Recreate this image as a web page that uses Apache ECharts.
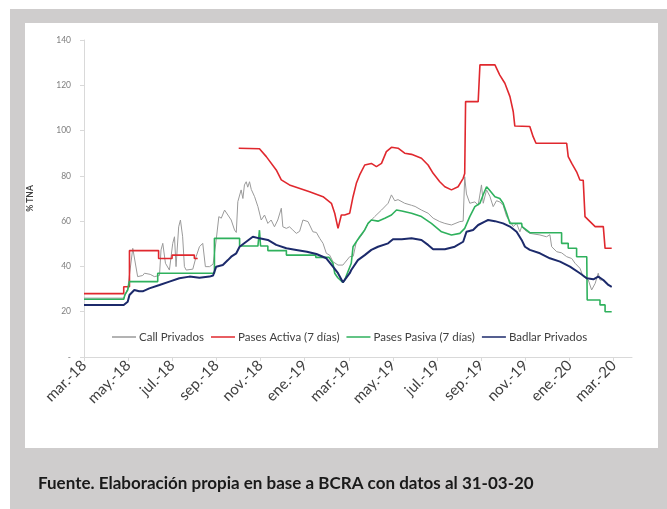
<!DOCTYPE html>
<html>
<head>
<meta charset="utf-8">
<script src="https://cdn.jsdelivr.net/npm/echarts@6/dist/echarts.min.js"></script>
<style>
  html, body { margin: 0; padding: 0; background: #ffffff; }
  #frame { position: absolute; left: 10px; top: 9px; width: 657px; height: 500px; background: #cfcdcd; }
  #panel { position: absolute; left: 25px; top: 23px; width: 633px; height: 425px; background: #ffffff; }
  #chart { position: absolute; left: 0; top: 0; width: 667px; height: 509px; }
</style>
</head>
<body>
<div id="frame"></div>
<div id="panel"></div>
<div id="chart"></div>
<script>
// x = months elapsed since 1 March 2018; y = % TNA
const tickLabels = ['mar.-18', 'may.-18', 'jul.-18', 'sep.-18', 'nov.-18', 'ene.-19', 'mar.-19',
  'may.-19', 'jul.-19', 'sep.-19', 'nov.-19', 'ene.-20', 'mar.-20'];
const tickPositions = [0, 2, 4, 6, 8, 10, 12, 14, 16, 18, 20, 22, 24];

const seriesNames = ['Call Privados', 'Pases Activa (7 días)', 'Pases Pasiva (7 días)', 'Badlar Privados'];

const callPrivados = [
  [0, 26], [1.80, 26], [1.98, 30], [2.21, 48], [2.28, 48.7], [2.43, 35.5], [2.66, 36], [2.74, 37],
  [3.0, 36.5], [3.19, 35.5], [3.42, 36], [3.49, 47.3], [3.57, 50.2], [3.69, 41.4], [3.87, 38.4],
  [4.02, 50.2], [4.10, 53.1], [4.17, 39.9], [4.29, 57.5], [4.37, 60.5], [4.47, 53.1], [4.55, 39.9],
  [4.63, 38.4], [4.93, 38.8], [5.08, 44.3], [5.23, 48.7], [5.38, 50.2], [5.50, 39.9], [5.69, 39.9],
  [5.85, 41], [5.99, 51.7], [6.11, 62], [6.22, 61.3], [6.37, 64.9], [6.52, 62.7], [6.67, 60.5],
  [6.82, 56.1], [6.90, 55], [6.97, 68.6], [7.12, 73.8], [7.20, 70], [7.27, 76], [7.35, 77.4],
  [7.42, 75], [7.50, 77.4], [7.58, 74], [7.73, 70.8], [7.88, 66.4], [8.03, 60.5], [8.18, 62.7],
  [8.33, 59], [8.48, 60.5], [8.63, 57.5], [8.78, 60.5], [8.94, 65.7], [9.01, 57.5], [9.17, 56.8],
  [9.31, 57.5], [9.46, 56.1], [9.62, 54.6], [9.77, 55.5], [9.92, 60.5], [10.15, 59.8], [10.37, 55.3],
  [10.53, 55], [10.68, 52.4], [10.83, 50.2], [10.98, 45.8], [11.13, 45], [11.28, 42.1], [11.51, 40.6],
  [11.73, 40.6], [12.04, 44.3], [12.20, 44.5], [12.34, 50.9], [12.60, 54], [12.87, 59], [13.17, 62],
  [13.48, 64.9], [13.78, 67.9], [13.93, 71.6], [14.08, 69], [14.23, 69.5], [14.53, 67.9], [14.84, 67],
  [15.0, 66.5], [15.29, 64.9], [15.59, 63.5], [15.82, 61.3], [16.12, 59.8], [16.35, 59], [16.65, 58.3],
  [17.03, 59.8], [17.18, 60], [17.25, 79.6], [17.33, 72], [17.48, 67.9], [17.71, 68.5], [17.86, 67],
  [18.01, 76], [18.09, 67.9], [18.24, 73.8], [18.39, 71], [18.54, 66.4], [18.69, 69], [18.84, 68.5],
  [18.99, 67], [19.15, 62], [19.30, 60], [19.45, 57.6], [19.60, 59], [19.75, 55.3], [19.83, 57.6],
  [19.98, 56], [20.20, 54.6], [20.66, 53.9], [20.96, 53.1], [21.11, 54], [21.19, 48.7], [21.42, 46.5],
  [21.64, 46], [21.87, 44.3], [22.10, 43.5], [22.25, 41.4], [22.47, 39.2], [22.62, 35.5], [22.85, 34],
  [23.00, 29.6], [23.16, 32.5], [23.30, 37], [23.38, 34], [23.53, 34], [23.76, 32], [23.91, 31]
];

const pasesActiva = [
  [0, 28], [1.80, 28], [1.80, 31], [2.06, 31], [2.06, 47], [3.38, 47], [3.38, 43.5], [3.99, 43.5],
  [3.99, 45], [5.00, 45], [5.00, 43.5], [5.15, 43.5], [6.0, null],
  [7.01, 92.2], [7.95, 92], [8.26, 88.5], [8.71, 82.6], [8.94, 78.2], [9.31, 76], [10.22, 73],
  [10.83, 70.8], [11.21, 67.9], [11.36, 63.5], [11.51, 56.8], [11.58, 56], [11.66, 62.7], [11.81, 62.7],
  [12.04, 63.5], [12.19, 70.8], [12.34, 76.7], [12.49, 80.4], [12.72, 84.8], [13.02, 85.5], [13.25, 84.1],
  [13.48, 85.5], [13.70, 90.7], [13.93, 92.6], [14.23, 92.2], [14.53, 90], [14.84, 89.5], [15.29, 87.8],
  [15.59, 84.8], [15.82, 81.1], [16.12, 77.4], [16.35, 75.2], [16.65, 73.8], [16.95, 75.2], [17.18, 78.9],
  [17.25, 81], [17.29, 112.8], [17.86, 112.8], [17.94, 129], [18.62, 129], [18.84, 124.5], [19.07, 120.9],
  [19.30, 115], [19.45, 108.3], [19.52, 102], [20.20, 101.8], [20.35, 97.3], [20.48, 94.4], [21.87, 94.4],
  [21.94, 88.5], [22.10, 85.5], [22.32, 81.8], [22.47, 78.2], [22.62, 78], [22.70, 62], [22.93, 59.8],
  [23.16, 57.6], [23.53, 57.6], [23.61, 48], [23.91, 48]
];

const pasesPasiva = [
  [0, 25.5], [1.80, 25.5], [1.85, 27.4], [1.98, 29.6], [2.06, 33.3], [3.34, 33.3], [3.34, 37], [5.91, 37],
  [5.91, 52.4], [7.05, 52.4], [7.05, 49], [7.88, 49], [7.95, 56], [8.0, 49], [8.33, 49], [8.33, 47],
  [9.17, 47], [9.17, 45], [10.5, 45], [10.5, 44], [11.1, 44], [11.28, 41.4], [11.36, 37], [11.5, 35],
  [11.73, 33], [11.81, 34], [12.11, 41.4], [12.19, 48.7], [12.49, 53.1], [12.72, 56.1], [12.87, 59],
  [13.02, 60.5], [13.32, 60], [13.63, 61.3], [13.93, 62.7], [14.16, 64.9], [14.40, 64.5], [14.84, 63.5],
  [15.29, 62], [15.74, 59], [16.20, 55.3], [16.65, 53.9], [17.03, 54.6], [17.25, 56.8], [17.48, 62],
  [17.71, 66.4], [17.94, 67.9], [18.10, 72], [18.24, 75.2], [18.35, 74], [18.62, 70.8], [18.84, 70],
  [18.99, 67.9], [19.15, 63.5], [19.30, 59], [19.83, 59], [19.85, 57.6], [20.20, 54.9], [21.64, 54.9],
  [21.64, 50.2], [21.94, 50.2], [21.94, 48], [22.32, 48], [22.32, 44.3], [22.78, 44.3], [22.80, 25.2],
  [23.38, 25.2], [23.38, 23], [23.61, 23], [23.61, 20], [23.91, 20]
];

const badlarPrivados = [
  [0, 23], [1.80, 23], [1.98, 24.4], [2.06, 27.4], [2.28, 29.6], [2.50, 29], [2.66, 29], [2.96, 30.3],
  [3.42, 31.8], [3.87, 33.3], [4.32, 34.8], [4.78, 35.5], [5.23, 35], [5.69, 35.5], [5.85, 36],
  [5.99, 39.9], [6.29, 40.6], [6.52, 42.8], [6.67, 44.3], [6.90, 45.8], [7.05, 48.7], [7.35, 50.9],
  [7.65, 53.1], [7.95, 52.4], [8.33, 51.7], [8.71, 49.5], [9.17, 48], [9.62, 47.3], [10.10, 46.5],
  [10.53, 45.5], [10.98, 43.6], [11.28, 39.9], [11.51, 37], [11.73, 33], [11.81, 33.5], [12.04, 37],
  [12.11, 38.4], [12.41, 42.8], [12.72, 45], [13.02, 47.3], [13.32, 48.7], [13.78, 50.2], [14.00, 52],
  [14.40, 52], [14.84, 52.4], [15.29, 51.7], [15.59, 49.5], [15.82, 47.6], [16.35, 47.6], [16.80, 48.7],
  [17.18, 50.9], [17.33, 55.3], [17.63, 56.1], [17.86, 58.3], [18.16, 59.8], [18.31, 60.5], [18.62, 60],
  [18.99, 59], [19.30, 57.6], [19.60, 55.3], [19.83, 51.7], [19.98, 48.7], [20.20, 47.3], [20.66, 45.8],
  [21.11, 43.6], [21.57, 42.1], [22.02, 39.9], [22.47, 37], [22.78, 34.8], [23.08, 34.3], [23.30, 35.5],
  [23.53, 34], [23.76, 31.8], [23.91, 31]
];

const colors = ['#9a9a9a', '#e0282e', '#2fb15d', '#1c2a6b'];
const widths = [1, 1.6, 1.6, 2];
const seriesData = [callPrivados, pasesActiva, pasesPasiva, badlarPrivados];

const chart = echarts.init(document.getElementById('chart'), null, { renderer: 'canvas' });

chart.setOption({
  animation: false,
  backgroundColor: 'transparent',
  textStyle: { fontFamily: 'Lato' },
  grid: { left: 84, top: 40, width: 548, height: 317, containLabel: false },
  legend: {
    data: seriesNames,
    left: 112,
    top: 331,
    padding: 0,
    icon: 'rect',
    itemWidth: 24,
    itemHeight: 1.5,
    itemGap: 7,
    textStyle: { fontSize: 11.5, color: '#404040', fontFamily: 'Lato', padding: [0, 0, 0, -2] }
  },
  xAxis: {
    type: 'value',
    min: 0,
    max: 24.83,
    splitLine: { show: false },
    axisLine: { lineStyle: { color: '#d9d9d9', width: 1 } },
    axisTick: { show: true, customValues: tickPositions, length: 4, lineStyle: { color: '#d9d9d9' } },
    axisLabel: {
      customValues: tickPositions,
      formatter: v => tickLabels[Math.round(v / 2)],
      rotate: 45,
      fontSize: 15,
      fontFamily: 'Lato',
      color: '#404040',
      margin: 6
    }
  },
  yAxis: {
    type: 'value',
    min: 0,
    max: 140,
    interval: 20,
    splitLine: { show: false },
    axisLine: { show: true, lineStyle: { color: '#d9d9d9', width: 1 } },
    axisTick: { show: true, length: 4, lineStyle: { color: '#d9d9d9' } },
    axisLabel: {
      formatter: v => (v === 0 ? '-' : String(v)),
      fontSize: 8.5,
      color: '#7f7f7f',
      margin: 13
    },
    name: '% TNA',
    nameLocation: 'middle',
    nameGap: 49,
    nameTextStyle: { fontSize: 8.5, fontWeight: 'bold', color: '#404040' }
  },
  series: seriesNames.map((name, i) => ({
    name,
    type: 'line',
    data: seriesData[i],
    showSymbol: false,
    connectNulls: false,
    color: colors[i],
    lineStyle: { width: widths[i], color: colors[i] },
    z: i === 0 ? 2 : 3 + i
  })),
  graphic: [{
    type: 'text',
    left: 38,
    top: 475,
    style: {
      text: 'Fuente. Elaboración propia en base a BCRA con datos al 31-03-20',
      font: 'bold 17px Lato',
      fill: '#1a1a1a'
    }
  }]
});
</script>
</body>
</html>
